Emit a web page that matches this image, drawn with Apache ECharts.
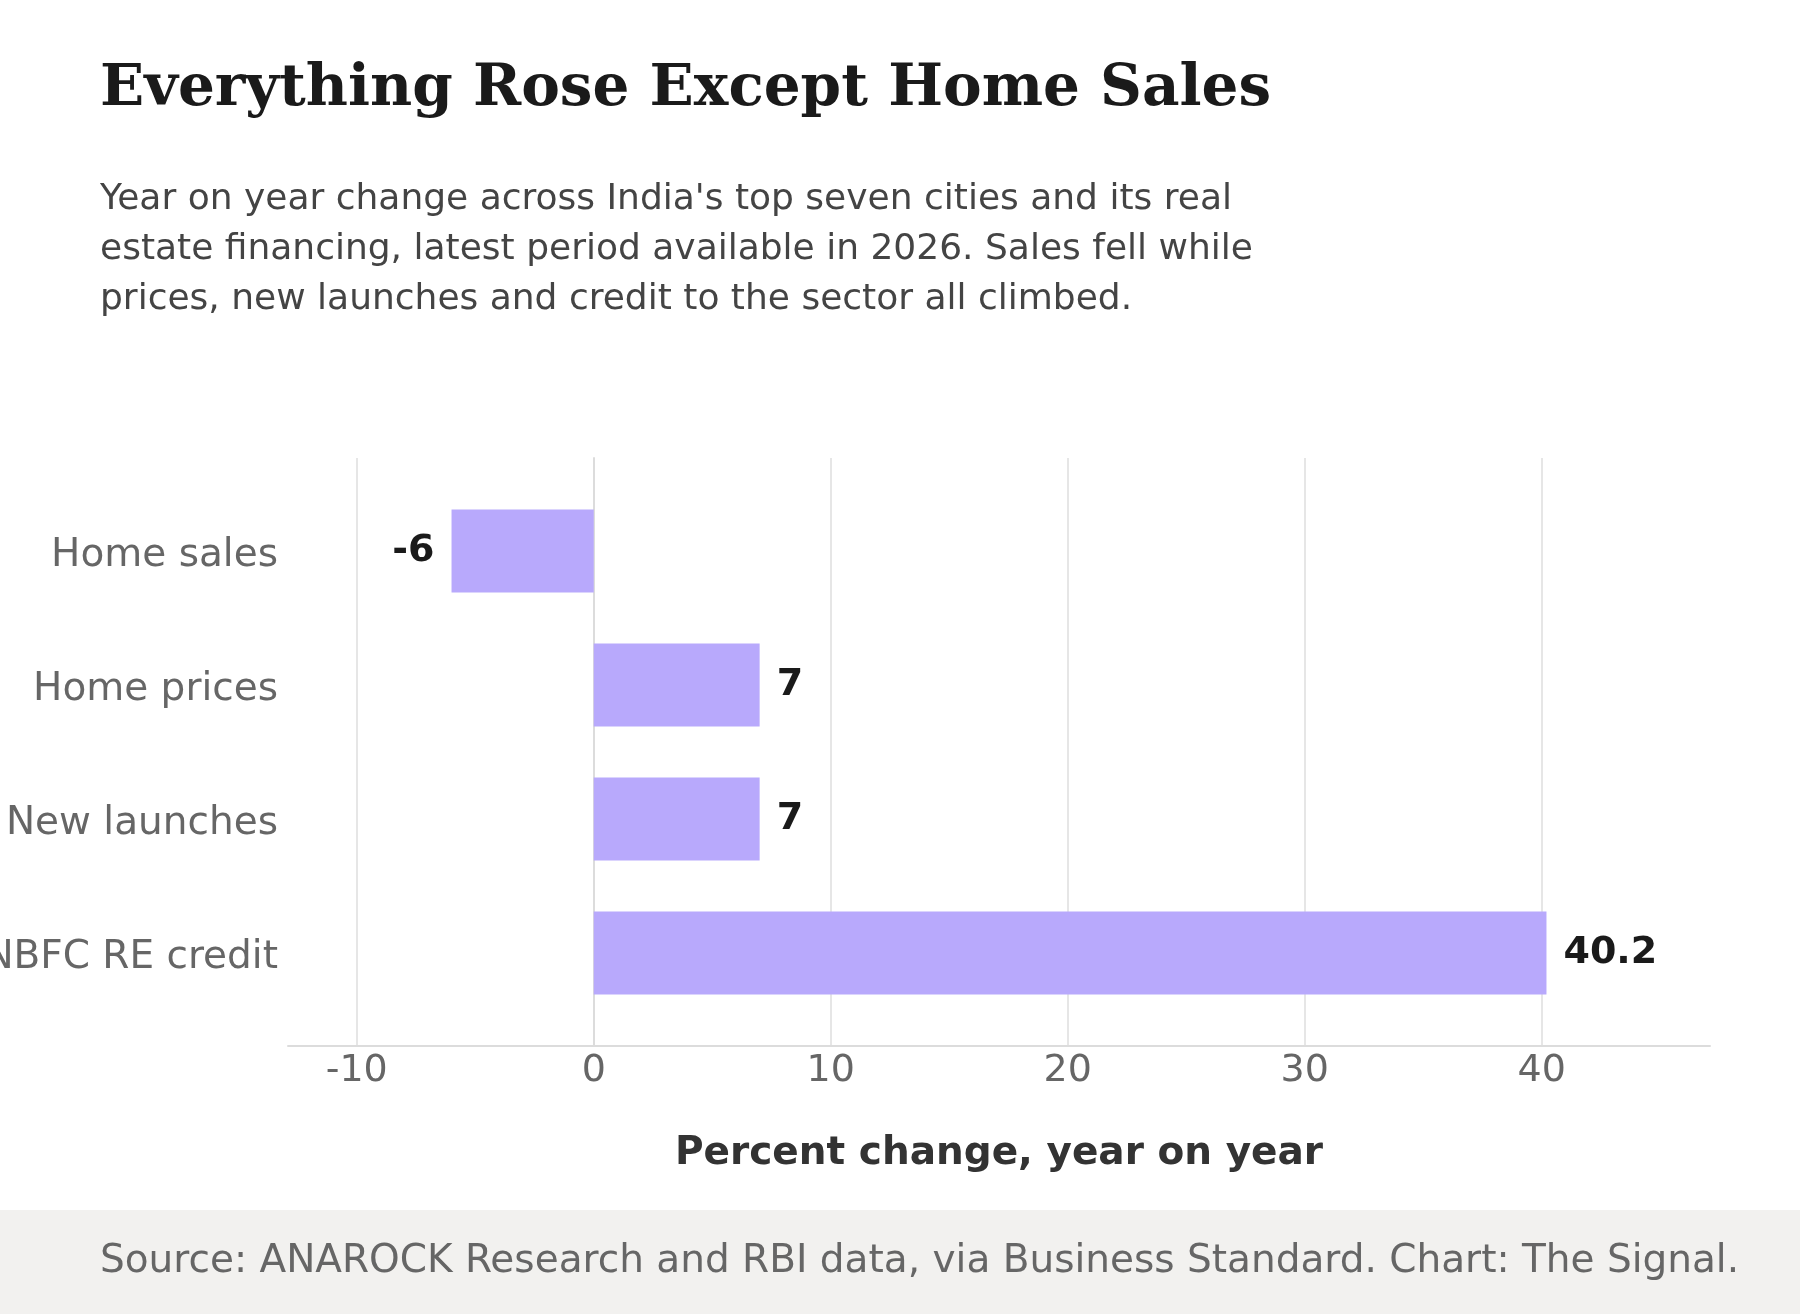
<!DOCTYPE html>
<html>
<head>
<meta charset="utf-8">
<script src="https://cdn.jsdelivr.net/npm/echarts@6/dist/echarts.min.js"></script>
<style>
  html, body { margin: 0; padding: 0; background: #fff; }
  #chart { width: 1800px; height: 1314px; }
</style>
</head>
<body>
<div id="chart"></div>
<script>
const categories = ['Home sales', 'Home prices', 'New launches', 'NBFC RE credit']
const values = [-6, 7, 7, 40.2]
const xMin = -12.9
const xMax = 47.1

const titleText = 'Everything Rose Except Home Sales'
const subtitleText = "Year on year change across India's top seven cities and its real\n" +
  'estate financing, latest period available in 2026. Sales fell while\n' +
  'prices, new launches and credit to the sector all climbed.'
const sourceText = 'Source: ANAROCK Research and RBI data, via Business Standard. Chart: The Signal.'
const axisName = 'Percent change, year on year'

const font = 'DejaVu Sans'
const barColor = '#b8a9fc'

const chart = echarts.init(document.getElementById('chart'), null, { renderer: 'canvas' })

chart.setOption({
  backgroundColor: '#ffffff',
  animation: false,
  title: [
    {
      text: titleText,
      left: 100,
      top: 61,
      padding: 0,
      textStyle: {
        fontFamily: 'DejaVu Serif',
        fontWeight: 'bold',
        fontSize: 58,
        color: '#1a1a1a',
      },
    },
    {
      text: subtitleText,
      left: 100,
      top: 175,
      padding: 0,
      textStyle: {
        fontFamily: font,
        fontWeight: 'normal',
        fontSize: 36,
        lineHeight: 50,
        color: '#444444',
      },
    },
  ],
  grid: [
    // frame: gridlines, axis lines, ticks
    { left: 288, right: 90, top: 458, bottom: 268, containLabel: false, outerBoundsMode: 'none' },
    // bars, inset so the bands sit like the reference
    { left: 288, right: 90, top: 484, bottom: 294, containLabel: false, outerBoundsMode: 'none' },
  ],
  xAxis: [
    {
      type: 'value',
      gridIndex: 0,
      min: xMin,
      max: xMax,
      name: axisName,
      nameLocation: 'middle',
      nameGap: 88,
      nameTextStyle: {
        fontFamily: font,
        fontWeight: 'bold',
        fontSize: 39,
        color: '#333333',
      },
      axisLine: { show: true, lineStyle: { color: '#dcdcdc', width: 2 } },
      axisTick: { show: false },
      axisLabel: {
        fontFamily: font,
        fontSize: 38,
        color: '#666666',
        margin: 6,
        showMinLabel: false,
        showMaxLabel: false,
      },
      splitLine: {
        show: true,
        showMinLine: false,
        showMaxLine: false,
        lineStyle: { color: '#e6e6e6', width: 2 },
      },
    },
    {
      type: 'value',
      gridIndex: 1,
      min: xMin,
      max: xMax,
      show: false,
    },
  ],
  yAxis: [
    {
      type: 'value',
      gridIndex: 0,
      axisLine: { show: true, lineStyle: { color: '#dcdcdc', width: 2 } },
      axisTick: { show: false },
      axisLabel: { show: false },
      splitLine: { show: false },
    },
    {
      type: 'category',
      gridIndex: 1,
      inverse: true,
      data: categories,
      axisLine: { show: false },
      axisTick: { show: false },
      axisLabel: {
        fontFamily: font,
        fontSize: 39,
        color: '#666666',
        margin: 10,
        // nudges the text a few px below the band centre, as in the reference
        verticalAlign: 'top',
        lineHeight: 9,
      },
      splitLine: { show: false },
    },
  ],
  series: [
    {
      type: 'bar',
      xAxisIndex: 1,
      yAxisIndex: 1,
      barWidth: 83,
      itemStyle: { color: barColor },
      label: {
        show: true,
        formatter: '{c}',
        distance: 17,
        fontFamily: font,
        fontWeight: 'bold',
        fontSize: 38,
        color: '#1a1a1a',
      },
      data: values.map((v) => ({
        value: v,
        label: { position: v < 0 ? 'left' : 'right' },
      })),
    },
  ],
  graphic: [
    {
      type: 'rect',
      left: 0,
      top: 1210,
      shape: { width: 1800, height: 104 },
      style: { fill: '#f2f1ef' },
      z: -1,
    },
    {
      type: 'text',
      x: 100,
      y: 1262,
      style: {
        text: sourceText,
        fontFamily: font,
        fontSize: 39,
        fill: '#666666',
        verticalAlign: 'middle',
      },
    },
  ],
})
</script>
</body>
</html>
